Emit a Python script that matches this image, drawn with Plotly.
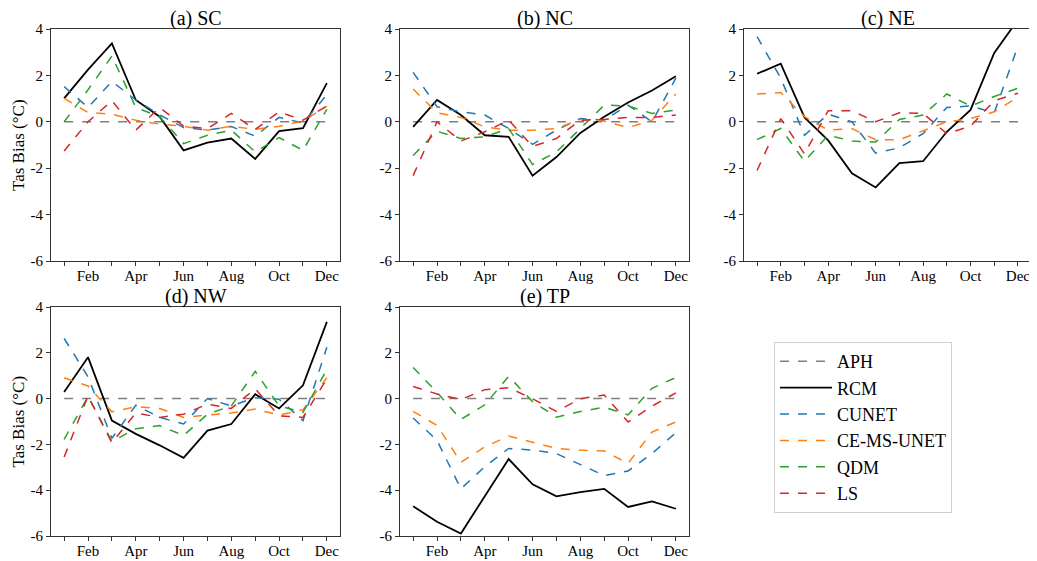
import plotly.graph_objects as go

months = ["Jan", "Feb", "Mar", "Apr", "May", "Jun", "Jul", "Aug", "Sep", "Oct", "Nov", "Dec"]
month_idx = list(range(1, 13))
tick_text = ["", "Feb", "", "Apr", "", "Jun", "", "Aug", "", "Oct", "", "Dec"]
y_ticks = [-6, -4, -2, 0, 2, 4]
y_tick_text = ["-6", "-4", "-2", "0", "2", "4"]

models = ["RCM", "CUNET", "CE-MS-UNET", "QDM", "LS"]
regions = ["SC", "NC", "NE", "NW", "TP"]
panel_titles = ["(a) SC", "(b) NC", "(c) NE", "(d) NW", "(e) TP"]

aph = [0] * 12

# (a) SC
sc_rcm = [1.01, 2.25, 3.38, 0.94, 0.22, -1.23, -0.90, -0.72, -1.60, -0.40, -0.27, 1.67]
sc_cunet = [1.52, 0.62, 1.74, 0.94, 0.30, -0.25, -0.36, -0.20, -0.62, 0.19, -0.05, 1.16]
sc_cems = [1.01, 0.40, 0.33, 0.07, -0.10, -0.19, -0.36, -0.19, -0.33, -0.19, 0.03, 0.68]
sc_qdm = [0.00, 1.38, 2.83, 0.62, 0.22, -0.94, -0.58, -0.36, -1.30, -0.68, -1.23, 0.54]
sc_ls = [-1.26, 0.00, 0.91, -0.36, 0.62, -0.19, -0.29, 0.36, -0.33, 0.43, 0.07, 0.68]

# (b) NC
nc_rcm = [-0.22, 0.94, 0.29, -0.58, -0.65, -2.32, -1.52, -0.48, 0.22, 0.83, 1.35, 1.96]
nc_cunet = [2.13, 0.65, 0.43, 0.29, -0.29, -0.97, -0.36, 0.14, 0.07, 0.72, 0.00, 1.88]
nc_cems = [1.41, 0.39, 0.19, -0.22, -0.36, -0.36, -0.29, 0.10, 0.03, -0.25, 0.07, 1.20]
nc_qdm = [-1.45, -0.41, -0.72, -0.65, -0.29, -1.84, -1.30, -0.29, 0.72, 0.68, 0.36, 0.51]
nc_ls = [-2.32, 0.00, -0.83, -0.43, 0.07, -1.06, -0.72, 0.07, 0.10, 0.19, 0.19, 0.29]

# (c) NE
ne_rcm = [2.07, 2.51, 0.19, -0.80, -2.22, -2.83, -1.78, -1.70, -0.43, 0.51, 2.97, 4.40]
ne_cunet = [3.67, 1.88, -0.58, 0.33, 0.00, -1.35, -1.12, -0.51, 0.62, 0.68, 0.39, 3.26]
ne_cems = [1.20, 1.26, 0.22, -0.36, -0.29, -0.77, -0.77, -0.39, 0.00, 0.14, 0.43, 1.06]
ne_qdm = [-0.77, -0.29, -1.70, -0.58, -0.83, -0.87, 0.10, 0.29, 1.20, 0.68, 1.09, 1.45]
ne_ls = [-2.10, 0.14, -1.38, 0.48, 0.48, 0.00, 0.39, 0.36, -0.51, -0.19, 0.91, 1.23]

# (d) NW
nw_rcm = [0.29, 1.81, -0.96, -1.54, -2.04, -2.59, -1.40, -1.11, 0.19, -0.43, 0.58, 3.35]
nw_cunet = [2.63, 0.95, -1.73, -0.29, -0.82, -1.11, 0.00, -0.32, 0.04, -0.03, -0.96, 2.24]
nw_cems = [0.91, 0.55, -0.58, -0.35, -0.43, -0.82, -0.72, -0.63, -0.46, -0.72, -0.49, 0.91]
nw_qdm = [-1.78, 0.09, -1.87, -1.32, -1.18, -1.61, -0.68, -0.32, 1.19, -0.32, -0.60, 1.27]
nw_ls = [-2.55, 0.12, -1.93, -0.63, -0.82, -0.68, -0.24, -0.43, 0.43, -0.75, -0.82, 0.86]

# (e) TP
tp_rcm = [-4.70, -5.38, -5.89, -4.27, -2.64, -3.74, -4.27, -4.08, -3.94, -4.73, -4.49, -4.81]
tp_cunet = [-0.85, -1.82, -3.94, -2.97, -2.18, -2.25, -2.40, -2.87, -3.36, -3.16, -2.40, -1.49]
tp_cems = [-0.56, -1.17, -2.78, -2.11, -1.63, -1.89, -2.18, -2.25, -2.29, -2.83, -1.46, -1.02]
tp_qdm = [1.36, 0.27, -0.91, -0.27, 0.97, -0.13, -0.81, -0.56, -0.38, -0.71, 0.45, 0.92]
tp_ls = [0.53, 0.20, -0.04, 0.39, 0.48, -0.01, -0.56, -0.01, 0.16, -1.02, -0.33, 0.25]

region_series = [
    [sc_rcm, sc_cunet, sc_cems, sc_qdm, sc_ls],
    [nc_rcm, nc_cunet, nc_cems, nc_qdm, nc_ls],
    [ne_rcm, ne_cunet, ne_cems, ne_qdm, ne_ls],
    [nw_rcm, nw_cunet, nw_cems, nw_qdm, nw_ls],
    [tp_rcm, tp_cunet, tp_cems, tp_qdm, tp_ls],
]

colors = {"APH": "#7f7f7f", "RCM": "black", "CUNET": "#1f77b4",
          "CE-MS-UNET": "#ff7f0e", "QDM": "#2ca02c", "LS": "#d62728"}

# the page body has an 8px margin: the figure is drawn 8px in from the window corner
OFF = 8
W, H = 1037 - OFF, 561 - OFF
FONT = "Liberation Serif, Times New Roman, serif"

def px(v):
    return (v - OFF) / W

def py(v):
    return 1 - (v - OFF) / H

# panel boxes in window pixels (left, right, top, bottom)
col_x = [(51, 340), (400, 689), (744, 1031)]
row_y = [(29, 261), (307, 536)]
positions = [(0, 0), (0, 1), (0, 2), (1, 0), (1, 1)]

fig = go.Figure()
layout = dict(
    width=W, height=H,
    margin=dict(l=0, r=0, t=0, b=0, autoexpand=False),
    paper_bgcolor="white", plot_bgcolor="white",
    font=dict(family=FONT, size=15, color="black"),
    showlegend=True,
    legend=dict(x=px(774), y=py(342), xanchor="left", yanchor="top",
                bgcolor="white", bordercolor="#d0d0d0", borderwidth=1,
                font=dict(family=FONT, size=18, color="black"),
                tracegroupgap=0, itemwidth=52),
)
annotations = []

for i, (r, c) in enumerate(positions):
    n = i + 1
    xa = "xaxis" if n == 1 else f"xaxis{n}"
    ya = "yaxis" if n == 1 else f"yaxis{n}"
    xref = "x" if n == 1 else f"x{n}"
    yref = "y" if n == 1 else f"y{n}"
    x0, x1 = col_x[c]
    yt, yb = row_y[r]
    layout[xa] = dict(domain=[px(x0), px(x1)], range=[0.45, 12.55], anchor=yref,
                      tickvals=month_idx, ticktext=tick_text, ticks="outside", ticklen=4,
                      tickcolor="#333", showgrid=False, zeroline=False, showline=True,
                      linecolor="#333", linewidth=1.2, mirror=True, automargin=False,
                      ticklabelstandoff=-3,
                      tickfont=dict(family=FONT, size=15, color="black"))
    layout[ya] = dict(domain=[py(yb), py(yt)], range=[-6, 4], anchor=xref,
                      tickvals=y_ticks, ticktext=y_tick_text, ticks="outside", ticklen=4,
                      tickcolor="#333", showgrid=False, zeroline=False, showline=True,
                      linecolor="#333", linewidth=1.2, mirror=True, automargin=False,
                      tickfont=dict(family=FONT, size=15, color="black"))
    # panel title
    annotations.append(dict(text=panel_titles[i], x=(px(x0) + px(x1)) / 2, y=py(yt),
                            xref="paper", yref="paper", xanchor="center", yanchor="bottom",
                            yshift=-3, showarrow=False,
                            font=dict(family=FONT, size=20, color="black")))
    # APH reference
    fig.add_trace(go.Scatter(x=month_idx, y=aph, mode="lines", name="APH",
                             line=dict(color=colors["APH"], dash="dash", width=1.5),
                             xaxis=xref, yaxis=yref, showlegend=(i == 0), legendgroup="APH"))
    for m, vals in zip(models, region_series[i]):
        fig.add_trace(go.Scatter(
            x=month_idx, y=vals, mode="lines", name=m,
            line=dict(color=colors[m], dash="solid" if m == "RCM" else "dash",
                      width=1.8 if m == "RCM" else 1.5),
            xaxis=xref, yaxis=yref, showlegend=(i == 0), legendgroup=m))

# y axis titles for left column
for r in range(2):
    yt, yb = row_y[r]
    annotations.append(dict(text="Tas Bias (°C)", x=px(18), y=(py(yt) + py(yb)) / 2,
                            xref="paper", yref="paper", xanchor="center", yanchor="middle",
                            textangle=-90, showarrow=False,
                            font=dict(family=FONT, size=17, color="black")))

layout["annotations"] = annotations
fig.update_layout(**layout)
fig.write_html("out.html")
